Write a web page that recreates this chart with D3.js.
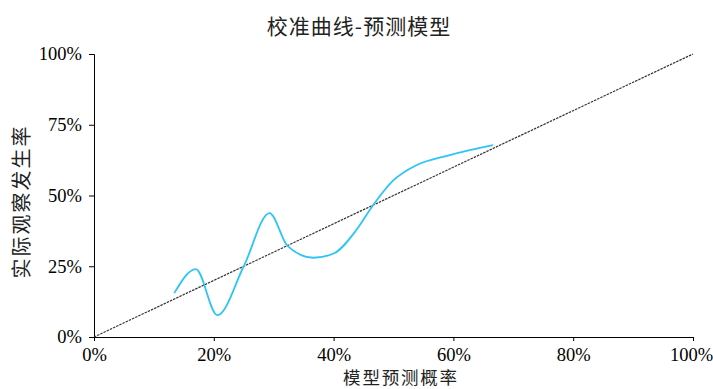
<!DOCTYPE html>
<html>
<head>
<meta charset="utf-8">
<script src="https://cdn.jsdelivr.net/npm/d3@7"></script>
<style>
  html, body { margin: 0; padding: 0; background: #fff; }
  #chart { width: 713px; height: 389px; }
  .cjk { font-family: "Noto Sans CJK SC", sans-serif; fill: #222; }
</style>
</head>
<body>
<div id="chart"></div>
<script>
// chart texts
const titleText = "校准曲线-预测模型";
const xLabel = "模型预测概率";
const yLabel = "实际观察发生率";

// tick values
const xTicks = [0, 0.2, 0.4, 0.6, 0.8, 1];
const yTicks = [0, 0.25, 0.5, 0.75, 1];

const predicted = [0.134, 0.170, 0.206, 0.250, 0.293, 0.323, 0.366, 0.400, 0.438, 0.465, 0.500, 0.538, 0.594, 0.666];
const observed  = [0.155, 0.240, 0.077, 0.250, 0.438, 0.322, 0.280, 0.295, 0.378, 0.463, 0.554, 0.607, 0.643, 0.678];

// ideal reference line
const ideal = [0, 1];

function drawChart(containerId) {
    const container = document.getElementById(containerId);
    const containerWidth = 713, containerHeight = 389;

    const margin = { top: 54, right: 20, bottom: 52, left: 94 };
    const width = containerWidth - margin.left - margin.right;
    const height = containerHeight - margin.top - margin.bottom;

    const x = d3.scaleLinear().domain([0, 1]).range([0, width]);
    const y = d3.scaleLinear().domain([0, 1]).range([height, 0]);

    const svg = d3.create("svg")
                .attr("width", containerWidth)
                .attr("height", containerHeight);

    const g = svg.append("g")
                 .attr("transform", `translate(${margin.left},${margin.top})`);

    // title
    svg.append("text")
       .attr("class", "cjk")
       .attr("x", 359)
       .attr("y", 34)
       .attr("text-anchor", "middle")
       .attr("font-size", 21)
       .attr("letter-spacing", 1)
       .text(titleText);

    // x axis
    const xAxis = g.append("g")
       .attr("transform", `translate(0,${height})`)
       .call(d3.axisBottom(x).tickValues(xTicks).tickFormat(d3.format(".0%")).tickSizeOuter(0).tickSize(4).tickPadding(4));

    // y axis
    const yAxis = g.append("g")
       .call(d3.axisLeft(y).tickValues(yTicks).tickFormat(d3.format(".0%")).tickSizeOuter(0).tickSize(5).tickPadding(7));

    [xAxis, yAxis].forEach(a => {
        a.attr("font-family", "'Liberation Serif', 'Times New Roman', serif")
         .attr("font-size", 18.5);
        a.select(".domain").attr("stroke", "#000").attr("stroke-width", 1);
        a.selectAll(".tick line").attr("stroke", "#000");
        a.selectAll(".tick text").attr("fill", "#000");
    });
    xAxis.selectAll(".tick text").attr("dy", "0.85em")
         .filter(d => d === 1).attr("dx", "-2");

    // axis titles
    svg.append("text")
       .attr("class", "cjk")
       .attr("x", 401)
       .attr("y", 384)
       .attr("text-anchor", "middle")
       .attr("font-size", 17.5)
       .attr("letter-spacing", 1.8)
       .text(xLabel);

    svg.append("text")
       .attr("class", "cjk")
       .attr("transform", `translate(29,${margin.top + height / 2 + 6}) rotate(-90)`)
       .attr("text-anchor", "middle")
       .attr("font-size", 20)
       .attr("letter-spacing", 2)
       .text(yLabel);

    // ideal diagonal
    g.append("line")
     .attr("x1", x(ideal[0])).attr("y1", y(ideal[0]))
     .attr("x2", x(ideal[1])).attr("y2", y(ideal[1]))
     .attr("stroke", "#333")
     .attr("stroke-width", 1.2)
     .attr("stroke-dasharray", "2.5,1");

    // calibration curve
    const points = predicted.map((p, i) => [p, observed[i]]);
    const line = d3.line()
                   .x(d => x(d[0]))
                   .y(d => y(d[1]))
                   .curve(d3.curveMonotoneX);

    g.append("path")
     .datum(points)
     .attr("fill", "none")
     .attr("stroke", "#2ec4f7")
     .attr("stroke-width", 1.8)
     .attr("d", line);

    container.appendChild(svg.node());
}

drawChart("chart");
</script>
</body>
</html>
